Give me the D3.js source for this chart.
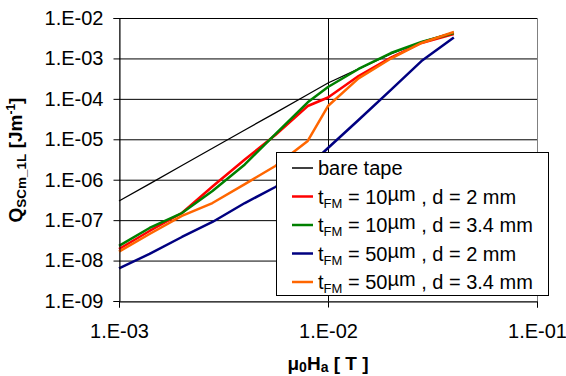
<!DOCTYPE html>
<html>
<head>
<meta charset="utf-8">
<script src="https://cdn.jsdelivr.net/npm/d3@7"></script>
<style>
  html, body { margin: 0; padding: 0; background: #fff; }
  svg { display: block; }
</style>
</head>
<body>
<div id="chart"></div>
<script>
// applied field mu0*Ha in T
var fieldValues = [0.001, 0.0014, 0.002, 0.0028, 0.004, 0.0056, 0.008, 0.01, 0.014, 0.02, 0.028, 0.04];

// loss per cycle and length, J/m
var bareTape = [2.98e-7, 7.9e-7, 2.25e-6, 6.0e-6, 1.7e-5, 4.5e-5, 1.28e-4, 2.47e-4, 5.5e-4, 1.29e-3, 2.55e-3, 4.5e-3];
var fm10d2   = [1.93e-8, 5.4e-8, 1.50e-7, 6.8e-7, 3.16e-6, 1.28e-5, 6.65e-5, 1.08e-4, 3.67e-4, 1.05e-3, 2.41e-3, 4.02e-3];
var fm10d34  = [2.30e-8, 6.4e-8, 1.50e-7, 5.26e-7, 2.38e-6, 1.35e-5, 8.2e-5, 1.96e-4, 5.48e-4, 1.36e-3, 2.55e-3, 4.26e-3];
var fm50d2   = [6.44e-9, 1.46e-8, 3.83e-8, 9.0e-8, 2.65e-7, 6.6e-7, 2.06e-6, 6.1e-6, 3.0e-5, 1.66e-4, 8.6e-4, 3.3e-3];
var fm50d34  = [1.66e-8, 4.54e-8, 1.27e-7, 2.65e-7, 7.8e-7, 2.18e-6, 9.1e-6, 6.65e-5, 3.2e-4, 9.95e-4, 2.41e-3, 4.5e-3];

var fmThickness = ['10', '10', '50', '50'];
var fmDistance = ['2', '3.4', '2', '3.4'];

var xTickValues = [1e-3, 1e-2, 1e-1];
var xTickLabels = ['1.E-03', '1.E-02', '1.E-01'];
var yTickValues = [1e-9, 1e-8, 1e-7, 1e-6, 1e-5, 1e-4, 1e-3, 1e-2];
var yTickLabels = ['1.E-09', '1.E-08', '1.E-07', '1.E-06', '1.E-05', '1.E-04', '1.E-03', '1.E-02'];

var seriesColors = ['#000000', '#ff0000', '#008000', '#000080', '#ff6600'];

var W = 566, H = 376;
var margin = {top: 18, right: 29, bottom: 75, left: 119};
var width = W - margin.left - margin.right,
    height = H - margin.top - margin.bottom;
var font = '"Liberation Sans", Arial, sans-serif';

var svg = d3.select('#chart').append('svg')
    .attr('width', W)
    .attr('height', H);

var x = d3.scaleLog().domain([1e-3, 1e-1]).range([margin.left, margin.left + width]);
var y = d3.scaleLog().domain([1e-9, 1e-2]).range([margin.top + height, margin.top]);

// plot frame
svg.append('rect')
    .attr('x', margin.left + 0.5)
    .attr('y', margin.top + 0.5)
    .attr('width', width)
    .attr('height', height)
    .attr('fill', 'none')
    .attr('stroke', '#808080');

// horizontal grid
svg.append('g')
    .attr('transform', 'translate(' + margin.left + ',0)')
    .call(d3.axisLeft(y).tickValues(yTickValues.slice(1)).tickSize(-width).tickFormat(''))
    .call(function (g) { g.select('.domain').remove(); })
    .selectAll('line').attr('stroke', '#000');

// vertical grid at 1e-2
svg.append('g')
    .attr('transform', 'translate(0,' + (margin.top + height) + ')')
    .call(d3.axisBottom(x).tickValues([1e-2]).tickSize(-height).tickFormat(''))
    .call(function (g) { g.select('.domain').remove(); })
    .selectAll('line').attr('stroke', '#000');

// lines
var allSeries = [bareTape, fm10d2, fm10d34, fm50d2, fm50d34];
var line = d3.line()
    .x(function (d) { return x(d[0]); })
    .y(function (d) { return y(d[1]); });

allSeries.forEach(function (vals, i) {
    svg.append('path')
        .datum(fieldValues.map(function (f, j) { return [f, vals[j]]; }))
        .attr('fill', 'none')
        .attr('stroke', seriesColors[i])
        .attr('stroke-width', i === 0 ? 1.3 : 2.5)
        .attr('stroke-linejoin', 'round')
        .attr('d', line);
});

// y axis
var yAxis = svg.append('g')
    .attr('transform', 'translate(' + (margin.left + 0.5) + ',0)')
    .call(d3.axisLeft(y).tickValues(yTickValues).tickSize(6).tickPadding(10)
        .tickFormat(function (d, i) { return yTickLabels[i]; }));
yAxis.select('.domain').attr('stroke', '#000');
yAxis.selectAll('line').attr('stroke', '#000');
yAxis.selectAll('text')
    .attr('font-family', font)
    .attr('font-size', 20)
    .attr('fill', '#000');

// x axis
var xAxis = svg.append('g')
    .attr('transform', 'translate(0,' + (margin.top + height + 0.5) + ')')
    .call(d3.axisBottom(x).tickValues(xTickValues).tickSize(6).tickPadding(16)
        .tickFormat(function (d, i) { return xTickLabels[i]; }));
xAxis.select('.domain').attr('stroke', '#000');
xAxis.selectAll('line').attr('stroke', '#000');
xAxis.selectAll('text')
    .attr('font-family', font)
    .attr('font-size', 20)
    .attr('fill', '#000');

// x axis title
var xt = svg.append('text')
    .attr('x', 328)
    .attr('y', 370)
    .attr('text-anchor', 'middle')
    .attr('font-family', font)
    .attr('font-weight', 'bold')
    .attr('font-size', 19);
xt.append('tspan').text('\u03bc');
xt.append('tspan').attr('font-size', 14).attr('dy', 2).text('0');
xt.append('tspan').attr('dy', -2).text('H');
xt.append('tspan').attr('font-size', 14).attr('dy', 2).text('a');
xt.append('tspan').attr('dy', -2).text(' [ T ]');

// y axis title
var yt = svg.append('text')
    .attr('transform', 'translate(22,160) rotate(-90)')
    .attr('text-anchor', 'middle')
    .attr('font-family', font)
    .attr('font-weight', 'bold')
    .attr('font-size', 19);
yt.append('tspan').text('Q');
yt.append('tspan').attr('font-size', 13.5).attr('dy', 4).text('SCm_1L');
yt.append('tspan').attr('dy', -4).text(' [Jm');
yt.append('tspan').attr('font-size', 12).attr('dy', -7).text('-1');
yt.append('tspan').attr('dy', 7).text(']');

// legend
var legend = svg.append('g');
legend.append('rect')
    .attr('x', 276.5)
    .attr('y', 152.5)
    .attr('width', 272)
    .attr('height', 143)
    .attr('fill', '#fff')
    .attr('stroke', '#000');

var rowStep = 28.5, rowY0 = 168;
seriesColors.forEach(function (c, i) {
    var cy = rowY0 + i * rowStep;
    legend.append('line')
        .attr('x1', 292).attr('x2', 313)
        .attr('y1', cy).attr('y2', cy)
        .attr('stroke', c)
        .attr('stroke-width', i === 0 ? 1.5 : 2.5);
    var t = legend.append('text')
        .attr('x', 318)
        .attr('y', cy + 7)
        .attr('font-family', font)
        .attr('font-size', 20)
        .attr('fill', '#000');
    if (i === 0) {
        t.text('bare tape');
    } else {
        t.append('tspan').text('t');
        t.append('tspan').attr('font-size', 13).attr('dy', 4).text('FM');
        t.append('tspan').attr('dy', -4).text(' = ' + fmThickness[i - 1]);
        t.append('tspan').attr('dy', -3).text('\u00b5m');
        t.append('tspan').attr('dy', 3).text(' , d = ' + fmDistance[i - 1] + ' mm');
    }
});
</script>
</body>
</html>
